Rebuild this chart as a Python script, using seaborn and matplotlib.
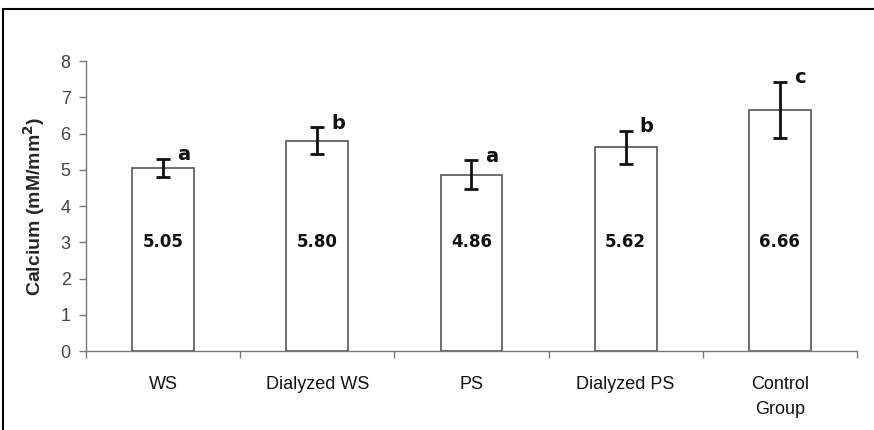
import matplotlib
matplotlib.use("Agg")
import matplotlib.pyplot as plt
import seaborn as sns
import pandas as pd
from matplotlib.patches import Rectangle

groups = ["WS", "Dialyzed WS", "PS", "Dialyzed PS", "Control\nGroup"]
calcium = [5.05, 5.80, 4.86, 5.62, 6.66]
errors = [0.25, 0.37, 0.40, 0.45, 0.77]
letters = ["a", "b", "a", "b", "c"]

sns.set_theme(style="white")
plt.rcParams['font.family'] = ['Liberation Sans', 'DejaVu Sans']

df = pd.DataFrame({"group": groups, "calcium": calcium})

fig = plt.figure(figsize=(8.74, 4.30), dpi=100)
ax = fig.add_axes([0.0984, 0.1837, 0.8821, 0.6743])

sns.barplot(data=df, x="group", y="calcium", color="white", edgecolor="#555555",
            linewidth=1.2, width=0.40, errorbar=None, ax=ax)
ax.errorbar(range(len(groups)), calcium, yerr=errors, fmt="none", ecolor="#111111",
            elinewidth=2, capsize=5, capthick=2)

for i, (v, e, l) in enumerate(zip(calcium, errors, letters)):
    ax.text(i, 3, f"{v:.2f}", ha="center", va="center", fontsize=12,
            fontweight="bold", family="DejaVu Sans", color="#111111")
    ax.text(i + 0.09, v + e + 0.12, l, ha="left", va="center", fontsize=14,
            fontweight="bold", family="DejaVu Sans", color="#111111")

ax.set_xlim(-0.5, len(groups) - 0.5)
ax.set_ylim(0, 8)
ax.set_yticks(range(0, 9))
ax.set_xticks([i - 0.5 for i in range(len(groups) + 1)], minor=False)
ax.set_xticklabels([])
ax.set_xticks(range(len(groups)), minor=True)
ax.set_xticklabels(groups, minor=True, fontsize=13, color="#111111", linespacing=1.6)
ax.tick_params(axis="x", which="major", direction="out", length=5, width=1, color="#777777", bottom=True)
ax.tick_params(axis="x", which="minor", length=0, pad=18)
ax.tick_params(axis="y", direction="out", length=5, width=1, color="#777777", left=True,
               labelsize=13, labelcolor="#444444", pad=6)

for s in ["top", "right"]:
    ax.spines[s].set_visible(False)
for s in ["left", "bottom"]:
    ax.spines[s].set_color("#777777")
    ax.spines[s].set_linewidth(1)

ax.set_xlabel("")
ax.set_ylabel("Calcium (mM/mm$^\\mathbf{2}$)", fontsize=14, fontweight="bold", labelpad=10)

fig.patches.append(Rectangle((3 / 874, -0.1), 1.2, 1.1 - 9 / 430, transform=fig.transFigure,
                             fill=False, edgecolor="black", linewidth=1.5))

fig.savefig("out.png", dpi=100)
